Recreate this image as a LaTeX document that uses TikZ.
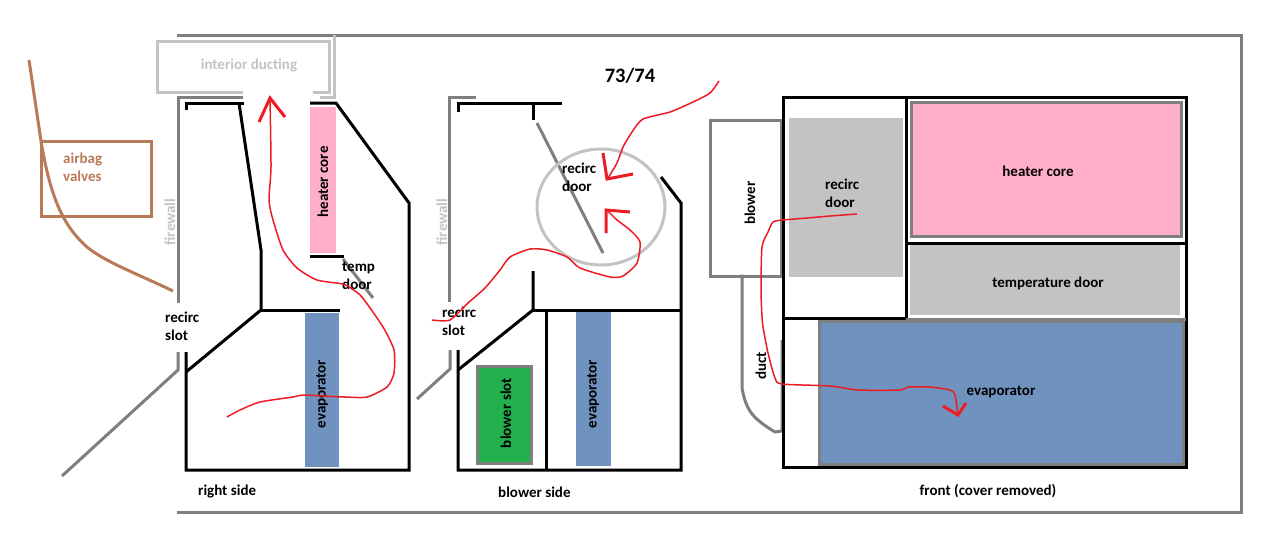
\documentclass[tikz,border=0pt]{standalone}
\usepackage{fontspec}
\setmainfont{Carlito}
\definecolor{sketchgray}{HTML}{7F7F7F}
\definecolor{palegray}{HTML}{C3C3C3}
\definecolor{coremagenta}{HTML}{FFAEC9}
\definecolor{evapblue}{HTML}{7092BE}
\definecolor{slotgreen}{HTML}{22B14C}
\definecolor{airbagbrown}{HTML}{B97A57}
\definecolor{flowred}{HTML}{ED1C24}
\tikzset{
wall/.style={draw=black,line width=3pt},
graywall/.style={draw=sketchgray,line width=3pt},
paleline/.style={draw=palegray,line width=3pt},
brownline/.style={draw=airbagbrown,line width=3pt},
flow/.style={draw=flowred,line width=1.5pt,line join=round},
flowtip/.style={draw=flowred,line width=3pt},
label/.style={font=\bfseries\fontsize{15}{18}\selectfont,align=left,inner sep=0pt,text=black},
}
\begin{document}
\begin{tikzpicture}[x=1pt,y=-1pt]

\useasboundingbox (0,0) rectangle (1280,555);

\fill[coremagenta] (310,107) rectangle (336,253);
\fill[evapblue] (305,313) rectangle (339,467);
\fill[evapblue] (576,312) rectangle (611,466);
\fill[palegray] (789,118) rectangle (903,277);
\fill[palegray] (910,245) rectangle (1180,315);
\filldraw[fill=coremagenta,graywall] (911,102) rectangle (1181,236);
\filldraw[fill=evapblue,graywall] (819,321) rectangle (1183,464);
\filldraw[fill=slotgreen,graywall] (477,366) rectangle (531,463);

\draw[graywall] (177,35) -- (1241,35) -- (1241,512) -- (177,512);
\draw[paleline] (243,92) -- (157,92) -- (157,41) -- (329,41) -- (329,92) -- (313,92);
\draw[paleline] (334,35) -- (334,97) -- (320,97);
\draw[graywall] (243,97) -- (178,97) -- (178,303);
\draw[graywall] (178,352) -- (178,370) -- (62,476);
\draw[graywall] (476,97) -- (449,97) -- (449,302);
\draw[graywall] (450,350) -- (450,369) -- (417,399);
\draw[graywall] (343,259) -- (373,298);
\draw[graywall] (537,123) -- (603,253);
\draw[graywall] (710,120) rectangle (781,276);
\draw[graywall] (740,276) -- (742,276) -- (742,388) .. controls (746,410) and (752,418) .. (775,432) -- (782,431) -- (782,340);

\draw[brownline] (41,141) rectangle (151,216);
\draw[brownline] (29,60) -- (41,141) .. controls (50,195) and (62,225) .. (87,247) .. controls (105,262) and (140,275) .. (173,291);
\draw[draw=palegray,line width=3pt] (601,207) ellipse [x radius=64,y radius=58];

\draw[wall] (186,110) -- (186,103) -- (244,103);
\draw[wall] (239,103) -- (261,250) -- (261,310) -- (186,372);
\draw[wall] (261,310) -- (340,310);
\draw[wall] (186,352) -- (186,470) -- (409,470) -- (409,203) -- (336,103) -- (310,103);
\draw[wall] (310,256) -- (344,256);

\draw[wall] (458,112) -- (458,103) -- (562,103);
\draw[wall] (533,103) -- (533,120);
\draw[wall] (533,271) -- (533,310) -- (458,370);
\draw[wall] (533,310) -- (681,310);
\draw[wall] (458,350) -- (458,470) -- (681,470) -- (681,203) -- (661,177);
\draw[wall] (546,310) -- (546,470);

\draw[wall] (783,97) rectangle (1186,467);
\draw[wall] (906,97) -- (906,318);
\draw[wall] (783,318) -- (906,318);
\draw[wall] (906,243) -- (1186,243);
\draw[graywall] (906,319) -- (1186,319);

\node[label,text=palegray]
(ducting)
at (249,65)
{interior ducting};

\node[label,text=airbagbrown,anchor=west]
(valves)
at (63,167)
{airbag\\valves};

\node[label,text=palegray,rotate=90]
(firewallright)
at (170,222)
{firewall};

\node[label,rotate=90]
(coreright)
at (323,182)
{heater core};

\node[label,anchor=west]
(tempdoor)
at (342,276)
{temp\\door};

\node[label,anchor=west]
(slotright)
at (165,326)
{recirc\\slot};

\node[label,rotate=90]
(evapright)
at (322,394)
{evaporator};

\node[label,anchor=west]
(rightside)
at (198,491)
{right side};

\node[label,font=\bfseries\fontsize{20.5}{24}\selectfont]
(model)
at (630,76)
{73/74};

\node[label,text=palegray,rotate=90]
(firewallblower)
at (442,222)
{firewall};

\node[label,anchor=west]
(doorblower)
at (562,177)
{recirc\\door};

\node[label,anchor=west]
(slotblower)
at (442,321)
{recirc\\slot};

\node[label,rotate=90]
(blowerslot)
at (506,413)
{blower slot};

\node[label,rotate=90]
(evapblower)
at (593,394)
{evaporator};

\node[label,anchor=west]
(blowerside)
at (498,492)
{blower side};

\node[label,rotate=90]
(blower)
at (750,203)
{blower};

\node[label,anchor=west]
(doorfront)
at (825,193)
{recirc\\door};

\node[label]
(corefront)
at (1038,171)
{heater core};

\node[label]
(tempfront)
at (1048,283)
{temperature door};

\node[label,rotate=90]
(duct)
at (761,366)
{duct};

\node[label]
(evapfront)
at (1001,392)
{evaporator};

\node[label]
(front)
at (988,491)
{front (cover removed)};

\draw[flow] plot[smooth,tension=0.4] coordinates {(227,417) (240,410) (260,402) (293,397) (303,395) (323,396) (345,397) (367,397) (387,387) (394,373) (394,350) (383,327) (362,297) (352,289) (343,284) (317,280) (297,268) (283,250) (273,220) (269,200) (271,167) (270,98)};
\draw[flowtip] (259,122) -- (270,98) -- (285,117);

\draw[flow] plot[smooth,tension=0.4] coordinates {(432,320) (450,320) (468,303) (485,288) (500,270) (510,257) (530,249) (547,250) (567,257) (580,268) (610,277) (623,276) (637,263) (640,242) (630,230) (617,220) (607,210)};
\draw[flowtip] (606,233) -- (606,210) -- (630,212);

\draw[flow] plot[smooth,tension=0.4] coordinates {(719,81) (710,93) (693,102) (670,112) (643,119) (632,132) (623,147) (617,163) (608,178)};
\draw[flowtip] (603,153) -- (607,179) -- (633,174);

\draw[flow] plot[smooth,tension=0.4] coordinates {(857,214) (830,216) (807,218) (783,220) (773,222) (768,232) (762,247) (761,290) (762,317) (763,327) (768,353) (775,378) (782,384) (830,386) (858,390) (900,390) (908,387) (930,387) (950,390) (955,395) (958,415)};
\draw[flowtip] (943,406) -- (958,415) -- (966,403);

\end{tikzpicture}
\end{document}
